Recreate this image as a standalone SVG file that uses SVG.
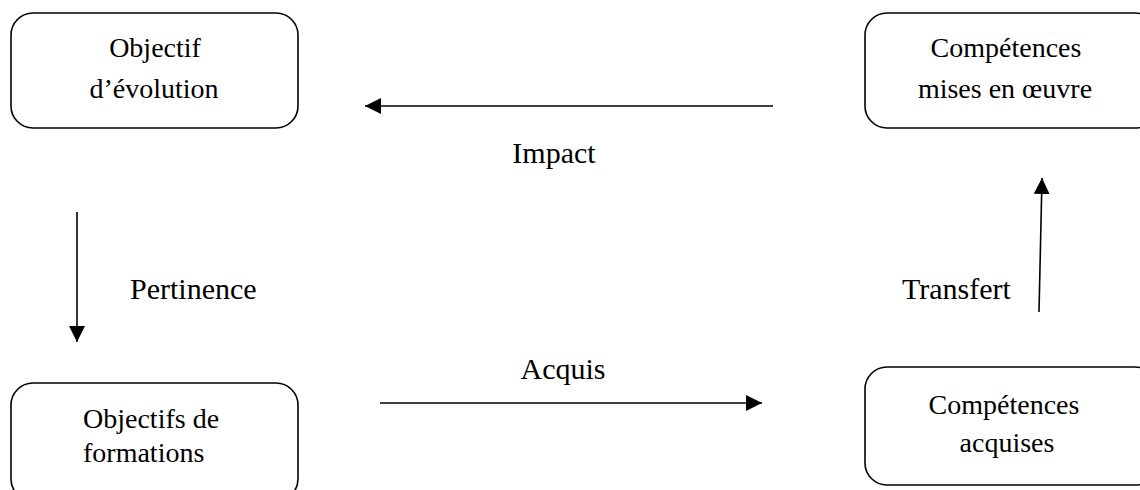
<svg xmlns="http://www.w3.org/2000/svg" width="1140" height="490" viewBox="0 0 1140 490">
  <defs>
    <style>
      .box { fill: #ffffff; stroke: #000000; stroke-width: 1.6; }
      .btxt { font-size: 28px; fill: #000000; }
      .ltxt { font-size: 30px; fill: #000000; }
      .edge { stroke: #000000; stroke-width: 1.6; fill: none; marker-end: url(#arrow); }
    </style>
    <marker id="arrow" viewBox="0 0 16 16" refX="16" refY="8" markerWidth="16" markerHeight="16" markerUnits="userSpaceOnUse" orient="auto">
      <path d="M0,0 L16,8 L0,16 Z" fill="#000000"/>
    </marker>
  </defs>
  <rect width="1140" height="490" fill="#ffffff"/>

  <g font-family="'Liberation Serif', Tinos, 'Times New Roman', 'DejaVu Serif', serif">
    <g id="objectif-evolution">
      <rect class="box" x="11" y="13" width="287" height="115" rx="22"/>
      <text class="btxt" x="155" y="57" text-anchor="middle">Objectif</text>
      <text class="btxt" x="154" y="98" text-anchor="middle">d’évolution</text>
    </g>

    <g id="competences-mises-en-oeuvre">
      <rect class="box" x="865" y="13" width="292" height="115" rx="22"/>
      <text class="btxt" x="1006" y="57" text-anchor="middle">Compétences</text>
      <text class="btxt" x="1005" y="98" text-anchor="middle">mises en œuvre</text>
    </g>

    <g id="objectifs-formations">
      <rect class="box" x="11" y="383" width="287" height="118" rx="22"/>
      <text class="btxt" x="83" y="428">Objectifs de</text>
      <text class="btxt" x="83" y="462">formations</text>
    </g>

    <g id="competences-acquises">
      <rect class="box" x="865" y="367" width="292" height="118" rx="22"/>
      <text class="btxt" x="1004" y="414" text-anchor="middle">Compétences</text>
      <text class="btxt" x="1007" y="452" text-anchor="middle">acquises</text>
    </g>

    <g id="connectors">
      <line class="edge" x1="773" y1="106" x2="365" y2="106"/>
      <line class="edge" x1="77" y1="212" x2="77" y2="342"/>
      <line class="edge" x1="380" y1="403" x2="762" y2="403"/>
      <line class="edge" x1="1039" y1="312" x2="1042" y2="178"/>
      <text class="ltxt" x="554" y="163" text-anchor="middle">Impact</text>
      <text class="ltxt" x="130" y="299">Pertinence</text>
      <text class="ltxt" x="563" y="379" text-anchor="middle">Acquis</text>
      <text class="ltxt" x="902" y="299">Transfert</text>
    </g>
  </g>
</svg>
